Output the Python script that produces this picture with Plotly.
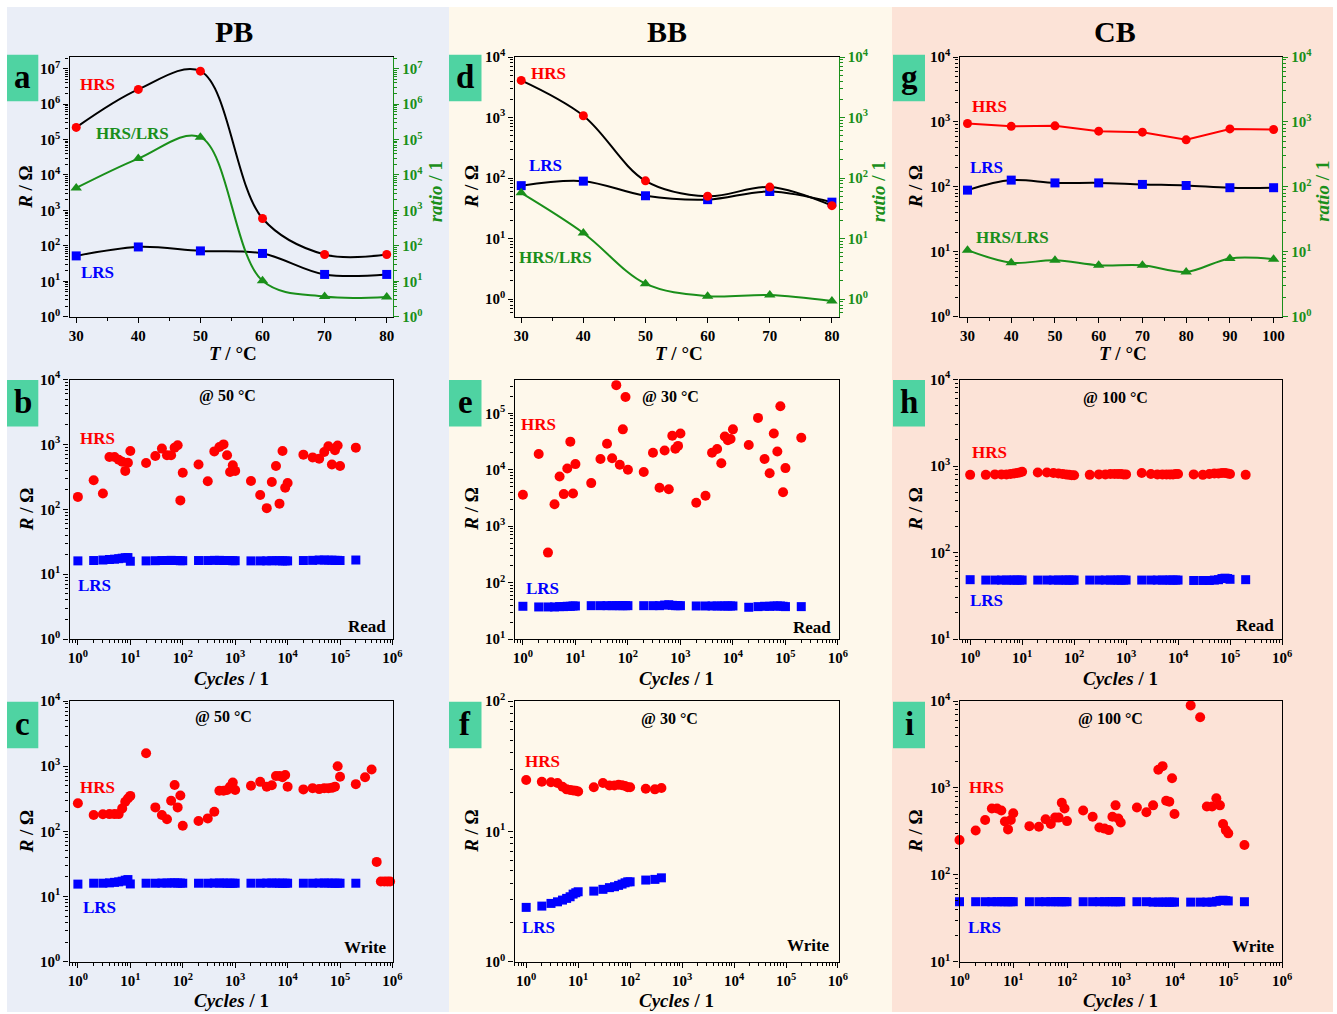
import plotly.graph_objects as go

W, H = 1337, 1014
FONT = "Liberation Serif, Times New Roman, serif"
RED = "#FF0000"
BLUE = "#0000FF"
GREEN = "#1A8F1A"
BOXGREEN = "#4FD3A2"
BG = {"PB": "#EAEEF7", "BB": "#FEF8EB", "CB": "#FCE3D7"}

# ---------------- data ----------------
# temperature panels (a, d, g)
T_pb = [30, 40, 50, 60, 70, 80]
pb_hrs_T = [2.2e5, 2.6e6, 8.5e6, 590, 57, 57]
pb_lrs_T = [52, 93, 72, 61, 15.6, 15.6]
pb_ratio_T = [4300, 2.9e4, 1.17e5, 10.3, 3.7, 3.6]

T_bb = [30, 40, 50, 60, 70, 80]
bb_hrs_T = [4100, 1070, 90, 50, 71, 35]
bb_lrs_T = [75, 89, 51, 44, 60, 40]
bb_ratio_T = [57, 12.4, 1.8, 1.12, 1.17, 0.93]

T_cb = [30, 40, 50, 60, 70, 80, 90, 100]
cb_hrs_T = [945, 855, 870, 720, 695, 530, 780, 765]
cb_lrs_T = [89, 127, 115, 115, 109, 105, 97, 97]
cb_ratio_T = [10.6, 6.8, 7.4, 6.2, 6.2, 4.9, 7.9, 7.7]

# cycle panels
cycles = [1, 2, 3, 4, 5, 6, 7, 8, 9, 10,
          20, 30, 40, 50, 60, 70, 80, 90, 100,
          200, 300, 400, 500, 600, 700, 800, 900, 1000,
          2000, 3000, 4000, 5000, 6000, 7000, 8000, 9000, 10000,
          20000, 30000, 40000, 50000, 60000, 70000, 80000, 90000, 100000,
          200000]
cycles_pb_write = cycles + [300000, 400000, 500000, 600000, 700000, 800000, 900000]
cycles_bb_write = [1, 2, 3, 4, 5, 6, 7, 8, 9, 10,
                   20, 30, 40, 50, 60, 70, 80, 90, 100,
                   200, 300, 400]

pb_read_hrs = [155, 280, 175, 640, 640, 580, 540, 390, 520, 790,
               515, 660, 860, 680, 680, 890, 970, 137, 365,
               490, 270, 780, 910, 1000, 680, 375, 475, 390,
               272, 166, 104, 263, 465, 122, 790, 214, 254,
               695, 630, 600, 765, 935, 490, 810, 960, 465,
               890]
pb_read_lrs = [16.0, 16.2, 16.5, 16.8, 17.0, 17.3, 17.6, 17.9, 18.0, 15.8,
               16.0, 16.1, 16.2, 16.2, 16.3, 16.2, 16.2, 16.1, 16.1,
               16.2, 16.2, 16.3, 16.3, 16.2, 16.2, 16.2, 16.1, 16.1,
               16.0, 16.0, 16.0, 16.1, 16.1, 16.1, 16.0, 16.0, 16.0,
               16.2, 16.3, 16.5, 16.5, 16.4, 16.4, 16.3, 16.3, 16.2,
               16.5]

pb_write_hrs = [270, 178, 183, 184, 184, 184, 225, 285, 320, 350,
                1580, 233, 178, 153, 295, 515, 233, 355, 122,
                144, 158, 200, 420, 420, 430, 485, 560, 430,
                500, 575, 485, 510, 705, 705, 675, 730, 485,
                440, 460, 445, 460, 460, 465, 485, 1000, 690,
                530, 675, 890, 34, 17, 17, 17, 17]
pb_write_lrs = [15.5, 16.0, 16.0, 16.2, 16.5, 16.8, 17.2, 17.8, 18.2, 15.6,
                16.0, 16.0, 16.1, 16.1, 16.2, 16.2, 16.1, 16.1, 16.0,
                16.0, 16.0, 16.1, 16.1, 16.1, 16.0, 16.0, 16.0, 16.0,
                16.0, 16.0, 16.1, 16.1, 16.1, 16.0, 16.0, 16.0, 16.0,
                16.0, 16.0, 16.1, 16.1, 16.1, 16.0, 16.0, 16.0, 16.0,
                16.0]

bb_read_hrs = [3600, 19000, 340, 2450, 7600, 3700, 10500, 31500, 3800, 12600,
               5800, 15500, 29000, 16000, 316000, 12300, 52000, 195000, 10000,
               9100, 20000, 4800, 22000, 4500, 40000, 23500, 26500, 44000,
               2600, 3450, 20000, 23300, 13000, 39000, 33500, 35000, 52000,
               27500, 83000, 15500, 8700, 44000, 21000, 134000, 4000, 10700,
               37000]
bb_read_lrs = [38.0, 37.0, 37.0, 37.0, 37.5, 37.5, 38.0, 38.0, 38.5, 38.5,
               39.0, 39.0, 39.0, 39.0, 39.0, 39.0, 39.0, 39.0, 39.0,
               39.0, 39.0, 39.0, 40.0, 40.5, 39.5, 39.0, 39.0, 39.0,
               38.5, 38.5, 38.5, 38.5, 38.5, 38.5, 38.5, 38.5, 38.5,
               36.5, 37.5, 38.0, 38.0, 38.5, 38.5, 38.5, 38.0, 37.5,
               37.5]

bb_write_hrs = [24.8, 24.0, 23.8, 23.5, 22.0, 21.0, 20.8, 20.6, 20.5, 20.2,
                21.8, 23.5, 22.5, 22.5, 22.8, 22.6, 22.3, 21.8, 21.8,
                21.2, 21.0, 21.5]
bb_write_lrs = [2.61, 2.67, 2.80, 2.88, 2.97, 3.06, 3.15, 3.30, 3.38, 3.44,
                3.48, 3.59, 3.70, 3.76, 3.85, 3.94, 4.03, 4.10, 4.10,
                4.23, 4.28, 4.40]

cb_read_hrs = [790, 790, 800, 800, 800, 810, 820, 830, 840, 860,
               840, 840, 830, 820, 810, 800, 790, 780, 780,
               790, 800, 800, 810, 810, 810, 810, 800, 800,
               830, 810, 800, 800, 800, 800, 800, 810, 810,
               800, 790, 810, 820, 820, 830, 830, 820, 810,
               790]
cb_read_lrs = [48.5, 48.0, 48.0, 48.0, 48.0, 48.0, 48.0, 48.0, 48.0, 48.0,
               48.0, 48.0, 48.0, 48.0, 48.0, 48.0, 48.0, 48.0, 48.0,
               48.0, 48.0, 48.0, 48.0, 48.0, 48.0, 48.0, 48.0, 48.0,
               48.0, 48.0, 48.0, 48.0, 48.0, 48.0, 48.0, 48.0, 48.0,
               47.5, 47.5, 47.5, 48.0, 48.5, 50.0, 50.5, 50.0, 49.0,
               48.5]

cb_write_hrs = [252, 323, 427, 580, 580, 550, 410, 333, 427, 510,
                363, 357, 435, 385, 455, 455, 675, 580, 415,
                550, 465, 350, 340, 327, 465, 630, 445, 400,
                595, 525, 630, 1620, 1780, 710, 695, 1290, 500,
                8900, 6500, 610, 610, 760, 630, 385, 327, 300,
                220]
cb_write_lrs = [49.0, 49.0, 49.0, 49.0, 49.0, 49.0, 49.0, 49.0, 49.0, 49.0,
                49.0, 49.0, 49.0, 49.0, 49.0, 49.0, 49.0, 49.0, 49.0,
                49.0, 49.0, 49.0, 49.0, 49.0, 49.0, 49.0, 49.0, 49.0,
                49.0, 49.0, 48.5, 48.5, 48.5, 48.5, 48.5, 48.5, 48.5,
                48.5, 48.5, 48.5, 48.5, 49.5, 50.5, 51.0, 50.5, 50.0,
                49.0]

# tick labels
log_exponents = [-1, 0, 1, 2, 3, 4, 5, 6, 7]
log_ticktext = {e: "10<sup>%d</sup>" % e for e in log_exponents}
T_ticks_pb = [30, 40, 50, 60, 70, 80]
T_ticks_cb = [30, 40, 50, 60, 70, 80, 90, 100]

# ---------------- layout geometry (pixels) ----------------
COL_X0 = [69.5, 514.5, 959.5]
COL_X1 = [393.0, 838.5, 1282.0]
ROW_T = [57.0, 379.5, 701.0]
ROW_B = [316.7, 639.0, 961.7]


def px(x):
    return x / W


def py(y):
    return 1 - y / H


fig = go.Figure()
layout = dict(
    template="none",
    width=W, height=H, margin=dict(l=0, r=0, t=0, b=0, pad=0, autoexpand=False),
    paper_bgcolor="white", plot_bgcolor="rgba(0,0,0,0)",
    showlegend=False, font=dict(family=FONT, size=15, color="black", weight="bold"),
)
shapes = []
annotations = []


def add_text(text, x, y, size, color="black", xanchor="center", angle=0):
    annotations.append(dict(text=text, x=px(x), y=py(y), xref="paper", yref="paper", showarrow=False,
                            xanchor=xanchor, yanchor="middle", textangle=angle,
                            font=dict(family=FONT, size=size, color=color, weight="bold")))


# column backgrounds
shapes.append(dict(type="rect", xref="paper", yref="paper", x0=px(7), x1=px(449), y0=py(1012), y1=py(7),
                   fillcolor=BG["PB"], line=dict(width=0), layer="below"))
shapes.append(dict(type="rect", xref="paper", yref="paper", x0=px(449), x1=px(892), y0=py(1012), y1=py(7),
                   fillcolor=BG["BB"], line=dict(width=0), layer="below"))
shapes.append(dict(type="rect", xref="paper", yref="paper", x0=px(892), x1=px(1333), y0=py(1012), y1=py(7),
                   fillcolor=BG["CB"], line=dict(width=0), layer="below"))

for name, xc in [("PB", 234), ("BB", 667), ("CB", 1115)]:
    add_text(name, xc, 31, 30)


def log_minor(lo, hi):
    vals = []
    for e in range(int(lo) - 1, int(hi) + 1):
        for m in range(2, 10):
            vals.append(m * 10.0 ** e)
    return vals


def log_major(lo, hi):
    es = [e for e in log_exponents if lo - 1e-6 <= e <= hi + 1e-6]
    return [10.0 ** e for e in es], [log_ticktext[e] for e in es]


def base_axis(color="black"):
    return dict(showline=True, linecolor=color, linewidth=1.3, ticks="outside", ticklen=5, tickwidth=1.2,
                tickcolor=color, showgrid=False, zeroline=False, automargin=False,
                tickfont=dict(family=FONT, size=15, color=color, weight="bold"))


def log_axis(lo, hi, color="black"):
    d = base_axis(color)
    tv, tt = log_major(lo, hi)
    d.update(type="log", range=[lo, hi], tickmode="array", tickvals=tv, ticktext=tt,
             minor=dict(tickmode="array", tickvals=log_minor(lo, hi), ticks="outside", ticklen=3,
                        tickwidth=1, tickcolor=color, showgrid=False))
    return d


panels = {}  # letter -> (k, row, col)
order = [("a", 0, 0), ("b", 1, 0), ("c", 2, 0), ("d", 0, 1), ("e", 1, 1), ("f", 2, 1),
         ("g", 0, 2), ("h", 1, 2), ("i", 2, 2)]
for k, (letter, r, c) in enumerate(order, start=1):
    panels[letter] = (k, r, c)


def ax_names(k):
    s = "" if k == 1 else str(k)
    return "x" + s, "y" + s, "xaxis" + s, "yaxis" + s


xranges = {
    "a": [28.92, 81.01], "d": [28.92, 81.06], "g": [28.17, 101.92],
    "b": [-0.16, 6.01], "e": [-0.16, 6.01], "h": [-0.205, 6.0],
    "c": [-0.16, 6.01], "f": [-0.225, 6.01], "i": [0.0, 6.0],
}
yranges = {
    "a": [0, 7.33], "d": [-0.29, 4.0], "g": [0, 4],
    "b": [0, 4], "e": [1, 5.6], "h": [1, 4],
    "c": [0, 4], "f": [0, 2], "i": [1, 4],
}
secondary = {"a": 10, "d": 11, "g": 12}

for letter, (k, r, c) in panels.items():
    xn, yn, xkey, ykey = ax_names(k)
    xdom = [px(COL_X0[c]), px(COL_X1[c])]
    ydom = [py(ROW_B[r]), py(ROW_T[r])]
    if r == 0:
        xa = base_axis()
        ticks = T_ticks_cb if letter == "g" else T_ticks_pb
        xa.update(type="linear", range=xranges[letter], tickmode="array", tickvals=ticks,
                  ticktext=[str(t) for t in ticks],
                  minor=dict(dtick=5, tick0=0, ticks="outside", ticklen=3, tickwidth=1, showgrid=False))
    else:
        xa = log_axis(*xranges[letter])
    xa.update(domain=xdom, anchor=yn, mirror=True)
    ya = log_axis(*yranges[letter])
    ya.update(domain=ydom, anchor=xn, mirror=(letter not in secondary))
    layout[xkey] = xa
    layout[ykey] = ya
    if letter in secondary:
        sk = secondary[letter]
        ya2 = log_axis(*yranges[letter], color=GREEN)
        ya2.update(domain=ydom, anchor=xn, overlaying=yn, side="right")
        layout["yaxis%d" % sk] = ya2

    # green letter box
    bx0, bx1 = (7, 38.3) if c == 0 else ((449, 481.5) if c == 1 else (893, 925))
    by0 = [54.7, 380, 701.7][r]
    by1 = by0 + 46.5
    shapes.append(dict(type="rect", xref="paper", yref="paper", x0=px(bx0), x1=px(bx1), y0=py(by1), y1=py(by0),
                       fillcolor=BOXGREEN, line=dict(width=0), layer="below"))
    add_text(letter, (bx0 + bx1) / 2, (by0 + by1) / 2 - 1, 33)

    # axis titles
    ymid = (ROW_T[r] + ROW_B[r]) / 2
    xmid = (COL_X0[c] + COL_X1[c]) / 2
    rx = [26, 471.5, 915.5][c]
    add_text("<i>R</i> / Ω", rx, ymid, 19, angle=-90)
    if r == 0:
        add_text("<i>T</i> / °C", xmid + 2, 353, 19)
        rtx = [435.5, 878.5, 1323][c]
        add_text("<i>ratio</i> / 1", rtx, ymid + 5, 19, color=GREEN, angle=-90)
    else:
        cy = 678 if r == 1 else 1000
        add_text("<i>Cycles</i> / 1", xmid, cy, 19)


def axes_for(letter, second=False):
    k = panels[letter][0]
    xn, yn, _, _ = ax_names(k)
    if second:
        return xn, "y%d" % secondary[letter]
    return xn, yn


def add_T(letter, T, hrs, lrs, ratio, hrs_line="black", hrs_shape="spline"):
    xa, ya = axes_for(letter)
    xa2, ya2 = axes_for(letter, True)
    fig.add_trace(go.Scatter(x=T, y=ratio, xaxis=xa2, yaxis=ya2, mode="lines+markers", cliponaxis=False,
                             line=dict(color=GREEN, width=2, shape="spline"),
                             marker=dict(symbol="triangle-up", size=10, color=GREEN)))
    fig.add_trace(go.Scatter(x=T, y=lrs, xaxis=xa, yaxis=ya, mode="lines+markers", cliponaxis=False,
                             line=dict(color="black", width=2, shape="spline"),
                             marker=dict(symbol="square", size=9, color=BLUE)))
    fig.add_trace(go.Scatter(x=T, y=hrs, xaxis=xa, yaxis=ya, mode="lines+markers", cliponaxis=False,
                             line=dict(color=hrs_line, width=2, shape=hrs_shape),
                             marker=dict(symbol="circle", size=9, color=RED)))


add_T("a", T_pb, pb_hrs_T, pb_lrs_T, pb_ratio_T)
add_T("d", T_bb, bb_hrs_T, bb_lrs_T, bb_ratio_T)
add_T("g", T_cb, cb_hrs_T, cb_lrs_T, cb_ratio_T, hrs_line=RED, hrs_shape="linear")


def add_cyc(letter, cyc_h, hrs, cyc_l, lrs):
    xa, ya = axes_for(letter)
    fig.add_trace(go.Scatter(x=cyc_l, y=lrs, xaxis=xa, yaxis=ya, mode="markers", cliponaxis=False,
                             marker=dict(symbol="square", size=9, color=BLUE)))
    fig.add_trace(go.Scatter(x=cyc_h, y=hrs, xaxis=xa, yaxis=ya, mode="markers", cliponaxis=False,
                             marker=dict(symbol="circle", size=10, color=RED)))


add_cyc("b", cycles, pb_read_hrs, cycles, pb_read_lrs)
add_cyc("c", cycles_pb_write, pb_write_hrs, cycles, pb_write_lrs)
add_cyc("e", cycles, bb_read_hrs, cycles, bb_read_lrs)
add_cyc("f", cycles_bb_write, bb_write_hrs, cycles_bb_write, bb_write_lrs)
add_cyc("h", cycles, cb_read_hrs, cycles, cb_read_lrs)
add_cyc("i", cycles, cb_write_hrs, cycles, cb_write_lrs)

# in-plot labels (pixel positions)
labels = [
    # (text, x, y, color, size, xanchor)
    ("HRS", 98, 85, RED, 17, "center"), ("HRS/LRS", 132, 133, GREEN, 17, "center"), ("LRS", 98, 272, BLUE, 17, "center"),
    ("HRS", 548, 73, RED, 17, "center"), ("LRS", 545, 166, BLUE, 17, "center"), ("HRS/LRS", 555, 257, GREEN, 17, "center"),
    ("HRS", 989, 107, RED, 17, "center"), ("LRS", 986, 167, BLUE, 17, "center"), ("HRS/LRS", 1012, 238, GREEN, 17, "center"),
    ("@ 50 °C", 227, 396, "black", 16, "center"), ("HRS", 97, 438, RED, 17, "center"), ("LRS", 95, 585, BLUE, 17, "center"),
    ("Read", 388, 626, "black", 17, "right"),
    ("@ 30 °C", 670, 397, "black", 16, "center"), ("HRS", 538, 424, RED, 17, "center"), ("LRS", 542, 588, BLUE, 17, "center"),
    ("Read", 833, 627, "black", 17, "right"),
    ("@ 100 °C", 1115, 398, "black", 16, "center"), ("HRS", 989, 452, RED, 17, "center"), ("LRS", 987, 600, BLUE, 17, "center"),
    ("Read", 1276, 625, "black", 17, "right"),
    ("@ 50 °C", 223, 717, "black", 16, "center"), ("HRS", 98, 787, RED, 17, "center"), ("LRS", 99, 907, BLUE, 17, "center"),
    ("Write", 389, 947, "black", 17, "right"),
    ("@ 30 °C", 669, 719, "black", 16, "center"), ("HRS", 542, 761, RED, 17, "center"), ("LRS", 538, 927, BLUE, 17, "center"),
    ("Write", 832, 945, "black", 17, "right"),
    ("@ 100 °C", 1110, 719, "black", 16, "center"), ("HRS", 987, 787, RED, 17, "center"), ("LRS", 984, 927, BLUE, 17, "center"),
    ("Write", 1277, 946, "black", 17, "right"),
]
for text, x, y, col, size, xa in labels:
    add_text(text, x, y, size, color=col, xanchor=xa)

layout["shapes"] = shapes
layout["annotations"] = annotations
fig.update_layout(**layout)
fig.write_html("out.html", config={"displayModeBar": False},
               post_script="document.body.style.margin='0px';document.body.style.overflow='hidden';")
